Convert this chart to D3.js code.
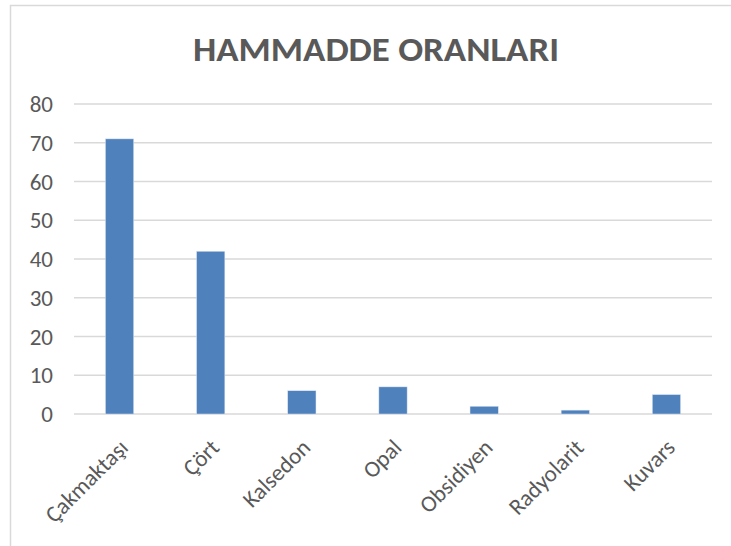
<!DOCTYPE html>
<html>
<head>
<meta charset="utf-8">
<script src="https://cdn.jsdelivr.net/npm/d3@7"></script>
<style>
  body { margin: 0; background: #fff; }
  text { font-family: Carlito, Calibri, "Open Sans", sans-serif; fill: #595959; }
</style>
</head>
<body>
<script>
// values
var categories = ["Çakmaktaşı", "Çört", "Kalsedon", "Opal", "Obsidiyen", "Radyolarit", "Kuvars"];
var values = [71, 42, 6, 7, 2, 1, 5];
var yTicks = [0, 10, 20, 30, 40, 50, 60, 70, 80];
var title = "HAMMADDE ORANLARI";

var width = 731, height = 546;
var margin = { top: 104, right: 19, bottom: 132, left: 74 };

var svg = d3.select("body").append("svg")
    .attr("width", width)
    .attr("height", height);

// chart frame (only top and left edges are in view)
svg.append("path")
    .attr("d", "M10.5,546V5.5H731")
    .attr("fill", "none")
    .attr("stroke", "#d9d9d9")
    .attr("stroke-width", 1.5);

var x = d3.scaleBand()
    .domain(categories)
    .range([margin.left, width - margin.right])
    .paddingInner(0.69)
    .paddingOuter(0.345);

var y = d3.scaleLinear()
    .domain([0, 80])
    .range([height - margin.bottom, margin.top]);

svg.append("text")
    .attr("x", 376)
    .attr("y", 61)
    .attr("text-anchor", "middle")
    .attr("font-size", 35)
    .attr("font-weight", "bold")
    .attr("textLength", 366)
    .attr("lengthAdjust", "spacingAndGlyphs")
    .text(title);

// gridlines
svg.append("g")
    .selectAll("line")
    .data(yTicks)
    .enter().append("line")
    .attr("x1", margin.left)
    .attr("x2", width - margin.right)
    .attr("y1", d => y(d))
    .attr("y2", d => y(d))
    .attr("stroke", "#d9d9d9")
    .attr("stroke-width", 1.5);

var yAxis = svg.append("g")
    .attr("transform", "translate(53,0)")
    .call(d3.axisLeft(y).tickValues(yTicks).tickSize(0).tickPadding(0));
yAxis.select(".domain").remove();
yAxis.selectAll("text")
    .attr("font-size", 23)
    .attr("dy", "0.33em")
    .style("font-family", null);

svg.append("g")
    .selectAll("rect")
    .data(values)
    .enter().append("rect")
    .attr("x", (d, i) => x(categories[i]))
    .attr("y", d => y(d))
    .attr("width", x.bandwidth())
    .attr("height", d => y(0) - y(d))
    .attr("fill", "#4f81bd")
    .attr("stroke", "#dbe4f0")
    .attr("stroke-width", 0.5);

var xAxis = svg.append("g")
    .attr("transform", "translate(0," + y(0) + ")")
    .call(d3.axisBottom(x).tickSize(0).tickPadding(0));
xAxis.select(".domain").remove();
xAxis.selectAll("text")
    .attr("font-size", 23)
    .attr("text-anchor", "end")
    .attr("dy", 0)
    .attr("transform", "translate(10,35) rotate(-45)")
    .style("font-family", null);
</script>
</body>
</html>
